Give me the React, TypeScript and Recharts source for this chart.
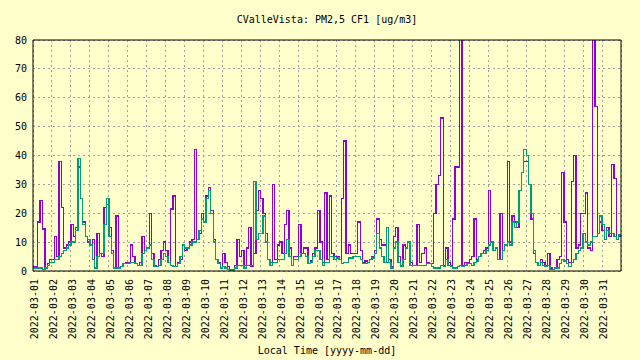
import { LineChart, Line, XAxis, YAxis, CartesianGrid } from 'recharts'

// one label per day, tick sits at local midnight
const dayLabels = [
  '2022-03-01', '2022-03-02', '2022-03-03', '2022-03-04', '2022-03-05', '2022-03-06',
  '2022-03-07', '2022-03-08', '2022-03-09', '2022-03-10', '2022-03-11', '2022-03-12',
  '2022-03-13', '2022-03-14', '2022-03-15', '2022-03-16', '2022-03-17', '2022-03-18',
  '2022-03-19', '2022-03-20', '2022-03-21', '2022-03-22', '2022-03-23', '2022-03-24',
  '2022-03-25', '2022-03-26', '2022-03-27', '2022-03-28', '2022-03-29', '2022-03-30',
  '2022-03-31',
]

const yTicks = [0, 10, 20, 30, 40, 50, 60, 70, 80]

// 3-hourly readings, 8 per day (channel A, purple)
const pmA = [
  1.5, 1.5, 17, 24.5, 14.5, 1, 2.5, 4,
  4, 12, 5, 38, 22, 8, 9, 10,
  16, 12, 15, 36, 25, 17, 12, 10,
  9, 11, 1, 13, 6, 5, 22, 23,
  15, 7, 1, 19, 1, 1.5, 2.5, 3,
  3, 9, 5, 2.5, 2, 3, 12, 7,
  8, 20, 6, 2, 1.5, 4, 7, 10,
  7, 3, 21.5, 26, 1.5, 3, 4, 9,
  7, 8, 10, 11, 42, 11, 13, 20,
  17, 26, 29, 21, 11, 4, 3, 1,
  6, 3, 1.5, 0.5, 0.5, 2, 11, 5,
  7, 2, 8, 15, 1.5, 6, 21, 28,
  25, 20, 13, 4, 3, 30, 4, 9,
  10, 6, 16, 21, 8, 2, 5, 5,
  16, 6, 8, 8, 2.5, 3.5, 6, 8,
  21, 10, 3, 27, 4, 26, 6, 5,
  5, 4, 25, 45, 6, 9, 6, 6,
  6, 17, 7, 3, 3.5, 3, 4, 5,
  7, 18, 11, 9, 9, 3, 4, 1.5,
  12, 15, 5, 2, 9, 8, 10, 3,
  2, 2, 16, 3, 6, 8, 3, 2.5,
  2.5, 20, 30, 33, 53, 2, 8, 3,
  2, 18, 36, 36, 95, 2, 3, 3,
  4, 5, 18, 4, 5, 6, 7, 8,
  28, 10, 7, 8, 4, 20, 7, 9,
  38, 10, 19, 17, 15, 28, 34, 38,
  38, 30, 18, 6, 3, 2, 4, 3,
  2, 6, 1, 0.5, 1, 4, 5, 34,
  17, 4, 3, 31, 40, 8, 9, 20,
  20, 27, 8, 7, 95, 57, 13, 17,
  14, 11, 15, 12, 37, 32, 11, 12,
]

// channel B, green
const pmB = [
  1, 1, 1, 1, 0.5, 1, 2, 3,
  3, 4, 4, 5, 6, 7, 8, 9,
  10, 10, 14, 39, 25, 16, 12, 11,
  9, 4, 1, 5, 6, 6, 16, 25,
  12, 6, 1, 1, 1, 1.5, 2.5, 2.5,
  2.5, 3, 3, 2.5, 2, 2, 6, 7,
  8, 9, 4, 1.5, 1.5, 2, 4, 6,
  5, 3, 2, 1.5, 1.5, 2.5, 5, 9,
  8, 8, 9, 10, 10, 11, 14, 18,
  17, 25, 28, 20, 10, 4, 2.5, 1,
  1.5, 1, 0.5, 0.3, 0.3, 1, 2, 2,
  2, 1, 2, 2, 2, 31, 11, 13,
  13, 19, 10, 4, 2, 3, 3, 4,
  4, 4, 6, 11, 5, 2, 4, 4,
  5, 6, 6, 5, 2.5, 3, 5, 7,
  7, 4, 2, 3, 3, 5, 5, 4,
  4.5, 4, 2.5, 3, 3, 4.5, 4.5, 5,
  5, 5, 4, 2.5, 2.5, 3, 4, 4.5,
  6, 13, 8, 5, 3, 15, 3, 1,
  8, 10, 3, 1.5, 4, 8, 10, 2,
  2, 2, 2, 2, 2, 2, 2.5, 2.5,
  1.5, 1, 1, 1, 2, 1.5, 4, 2,
  1.5, 1, 1, 1.5, 2, 1.5, 2, 2.5,
  2.5, 2, 3, 3.5, 5, 6, 6, 7,
  9, 10, 7, 8, 4, 4, 7, 9,
  10, 9, 17, 15, 17, 28, 34, 42,
  40, 30, 20, 7, 3, 2, 3, 2,
  1.5, 2, 0.5, 0.5, 1, 1, 2.5, 4,
  3.5, 2.5, 1.5, 3, 4, 6, 7, 8,
  13, 10, 9, 10, 12, 12, 13, 19,
  16, 11, 14, 13, 13, 12, 11, 12.5,
]

const STEP_H = 3
const END_H = dayLabels.length * 24
const dayTicks = dayLabels.map((_, i) => i * 24)

const data = pmA.map((a, i) => ({ t: i * STEP_H, a, b: pmB[i] }))
// close the last step at the right edge
data.push({ t: END_H, a: pmA[pmA.length - 1], b: pmB[pmB.length - 1] })

const FONT = '"DejaVu Sans Mono", monospace'
const BG = '#ffffcc'

function DateTick({ x, y, payload }: any) {
  const label = dayLabels[Math.round(payload.value / 24)]
  return (
    <text
      x={x + 1.5}
      y={y}
      transform={`rotate(-90, ${x + 1.5}, ${y})`}
      textAnchor="end"
      dominantBaseline="central"
      fontFamily={FONT}
      fontSize={10}
      fill="#000"
    >
      {label}
    </text>
  )
}

export default function App() {
  return (
    <div style={{ position: 'absolute', left: 0, top: 0, width: 640, height: 360, background: BG }}>
      <div
        style={{
          position: 'absolute', left: 0, width: 654, top: 15, lineHeight: '10px',
          textAlign: 'center', fontFamily: FONT, fontSize: 10, color: '#000',
        }}
      >
        CValleVista: PM2,5 CF1 [ug/m3]
      </div>
      <LineChart width={640} height={360} data={data} margin={{ top: 40, right: 19, left: 0, bottom: 0 }}>
        <CartesianGrid
          xAxisId="main"
          yAxisId="main"
          stroke="#a0a0a0"
          strokeDasharray="2 3"
          shapeRendering="crispEdges"
        />
        <XAxis
          xAxisId="main"
          dataKey="t"
          type="number"
          domain={[0, END_H]}
          ticks={dayTicks}
          interval={0}
          allowDataOverflow
          height={89}
          tickLine={false}
          tickSize={0}
          tickMargin={8}
          axisLine={{ stroke: '#000' }}
          tick={<DateTick />}
        />
        <XAxis
          xAxisId="top"
          orientation="top"
          mirror
          dataKey="t"
          type="number"
          domain={[0, END_H]}
          ticks={dayTicks}
          interval={0}
          tick={false}
          tickSize={5}
          tickLine={{ stroke: '#000' }}
          axisLine={{ stroke: '#000' }}
        />
        <XAxis
          xAxisId="btm"
          orientation="bottom"
          mirror
          dataKey="t"
          type="number"
          domain={[0, END_H]}
          ticks={dayTicks}
          interval={0}
          tick={false}
          tickSize={5}
          tickLine={{ stroke: '#000' }}
          axisLine={false}
        />
        <YAxis
          yAxisId="main"
          type="number"
          domain={[0, 80]}
          ticks={yTicks}
          interval={0}
          allowDataOverflow
          width={33}
          tickLine={false}
          tickSize={0}
          tickMargin={6}
          axisLine={{ stroke: '#000' }}
          tick={{ fill: '#000', fontSize: 10, fontFamily: FONT }}
        />
        <YAxis
          yAxisId="lin"
          orientation="left"
          mirror
          type="number"
          domain={[0, 80]}
          ticks={yTicks}
          interval={0}
          tick={false}
          tickSize={5}
          tickLine={{ stroke: '#000' }}
          axisLine={false}
        />
        <YAxis
          yAxisId="right"
          orientation="right"
          mirror
          type="number"
          domain={[0, 80]}
          ticks={yTicks}
          interval={0}
          tick={false}
          tickSize={5}
          tickLine={{ stroke: '#000' }}
          axisLine={{ stroke: '#000' }}
        />
        <Line
          xAxisId="main"
          yAxisId="main"
          type="stepAfter"
          dataKey="a"
          stroke="#9400d3"
          strokeWidth={1.3}
          shapeRendering="crispEdges"
          dot={false}
          isAnimationActive={false}
        />
        <Line
          xAxisId="main"
          yAxisId="main"
          type="stepAfter"
          dataKey="b"
          stroke="#009e73"
          strokeWidth={1.3}
          shapeRendering="crispEdges"
          dot={false}
          isAnimationActive={false}
        />
      </LineChart>
      <div
        style={{
          position: 'absolute', left: 0, width: 654, top: 346, lineHeight: '10px',
          textAlign: 'center', fontFamily: FONT, fontSize: 10, color: '#000',
        }}
      >
        Local Time [yyyy-mm-dd]
      </div>
    </div>
  )
}
